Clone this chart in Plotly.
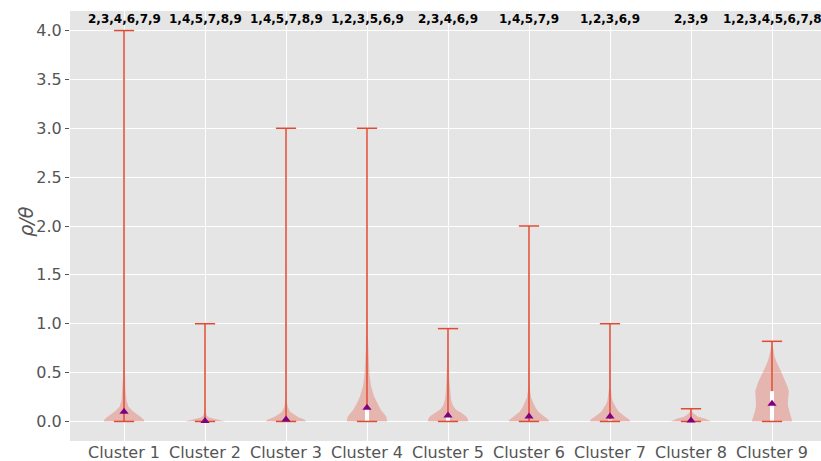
import plotly.graph_objects as go

# ---------------- data ----------------
clusters = ["Cluster 1", "Cluster 2", "Cluster 3", "Cluster 4", "Cluster 5",
            "Cluster 6", "Cluster 7", "Cluster 8", "Cluster 9"]
top_labels = ["2,3,4,6,7,9", "1,4,5,7,8,9", "1,4,5,7,8,9", "1,2,3,5,6,9",
              "2,3,4,6,9", "1,4,5,7,9", "1,2,3,6,9", "2,3,9", "1,2,3,4,5,6,7,8"]
minimums = [0, 0, 0, 0, 0, 0, 0, 0, 0]
maximums = [4.0, 1.0, 3.0, 3.0, 0.95, 2.0, 1.0, 0.13, 0.82]
means = [0.10, 0.005, 0.02, 0.14, 0.06, 0.05, 0.05, 0.01, 0.18]
q1 = [0, 0, 0, 0, 0, 0, 0, 0, 0]
q3 = [0.0, 0.0, 0.0, 0.16, 0.05, 0.0, 0.02, 0.0, 0.31]

# density profiles (value level, relative density 0..1)
dens_y = [
    [0, 0.02, 0.05, 0.1, 0.15, 0.22, 0.33, 0.5, 0.7, 1.0, 2.0, 3.0, 4.0],
    [0, 0.01, 0.025, 0.04, 0.06, 0.1, 0.2, 0.5, 1.0],
    [0, 0.02, 0.04, 0.07, 0.1, 0.14, 0.2, 0.3, 0.5, 1.0, 2.0, 3.0],
    [0, 0.05, 0.12, 0.19, 0.26, 0.36, 0.46, 0.57, 0.74, 0.9, 1.1, 1.5, 2.0, 3.0],
    [0, 0.03, 0.055, 0.09, 0.12, 0.157, 0.22, 0.33, 0.46, 0.7, 0.95],
    [0, 0.02, 0.04, 0.07, 0.1, 0.14, 0.175, 0.21, 0.245, 0.32, 0.5, 1.0, 2.0],
    [0, 0.02, 0.04, 0.07, 0.1, 0.14, 0.175, 0.21, 0.25, 0.35, 0.6, 1.0],
    [0, 0.01, 0.027, 0.048, 0.068, 0.09, 0.13],
    [0, 0.055, 0.105, 0.157, 0.21, 0.26, 0.31, 0.36, 0.41, 0.46, 0.52, 0.57,
     0.62, 0.67, 0.74, 0.82],
]
dens_w = [
    [1.0, 0.97, 0.8, 0.47, 0.22, 0.12, 0.07, 0.04, 0.02, 0.01, 0.005, 0.003, 0.0],
    [1.0, 0.8, 0.45, 0.2, 0.08, 0.03, 0.01, 0.005, 0.0],
    [1.0, 0.9, 0.63, 0.38, 0.2, 0.1, 0.04, 0.02, 0.01, 0.005, 0.003, 0.0],
    [1.0, 0.95, 0.68, 0.49, 0.34, 0.2, 0.13, 0.1, 0.06, 0.04, 0.025, 0.015, 0.007, 0.0],
    [1.0, 0.97, 0.87, 0.65, 0.4, 0.25, 0.15, 0.1, 0.05, 0.02, 0.0],
    [1.0, 0.95, 0.82, 0.62, 0.46, 0.33, 0.23, 0.17, 0.1, 0.05, 0.02, 0.007, 0.0],
    [1.0, 0.95, 0.8, 0.6, 0.43, 0.3, 0.2, 0.13, 0.08, 0.04, 0.015, 0.0],
    [1.0, 0.9, 0.7, 0.35, 0.2, 0.08, 0.0],
    [1.0, 0.92, 0.84, 0.79, 0.79, 0.81, 0.83, 0.76, 0.67, 0.55, 0.43, 0.3,
     0.2, 0.12, 0.06, 0.0],
]

# ---------------- style ----------------
HALF_WIDTH = 0.25
CAP = 0.125
RED = "#E24A33"
FILL = "rgba(226,74,51,0.3)"
FONT = "DejaVu Sans"

fig = go.Figure()
positions = list(range(1, len(clusters) + 1))

for i, p in enumerate(positions):
    ys = dens_y[i]
    ws = [w * HALF_WIDTH for w in dens_w[i]]
    xs = [p + w for w in ws] + [p - w for w in reversed(ws)]
    yy = ys + list(reversed(ys))
    fig.add_trace(go.Scatter(x=xs, y=yy, fill="toself", fillcolor=FILL,
                             mode="lines", line=dict(width=0),
                             hoverinfo="skip", showlegend=False))

for i, p in enumerate(positions):
    fig.add_trace(go.Scatter(x=[p, p], y=[minimums[i], maximums[i]], mode="lines",
                             line=dict(color=RED, width=1.5), showlegend=False,
                             hoverinfo="skip"))
    if q3[i] > q1[i]:
        fig.add_trace(go.Scatter(x=[p, p], y=[q1[i], q3[i]], mode="lines",
                                 line=dict(color="white", width=4),
                                 showlegend=False, hoverinfo="skip"))
    for v in (minimums[i], maximums[i]):
        fig.add_trace(go.Scatter(x=[p - CAP, p + CAP], y=[v, v], mode="lines",
                                 line=dict(color=RED, width=1.5),
                                 showlegend=False, hoverinfo="skip"))

fig.add_trace(go.Scatter(x=positions, y=means, mode="markers",
                         marker=dict(symbol="triangle-up", color="purple", size=8,
                                     line=dict(width=0)),
                         showlegend=False))

for i, p in enumerate(positions):
    fig.add_annotation(x=p, y=4.12, xref="x", yref="y", text="<b>%s</b>" % top_labels[i],
                       showarrow=False, font=dict(family=FONT, size=12, color="black"),
                       xanchor="center", yanchor="middle")

fig.add_annotation(x=0, y=0.51, xref="paper", yref="paper", text="<i>ρ/θ</i>",
                   textangle=-90, showarrow=False, xshift=-44,
                   font=dict(family=FONT, size=19, color="#555555"),
                   xanchor="center", yanchor="middle")

fig.update_layout(
    width=821, height=461,
    margin=dict(l=70, r=0, t=11, b=20),
    paper_bgcolor="white", plot_bgcolor="#E5E5E5",
    font=dict(family=FONT, size=16, color="#555555"),
    showlegend=False,
)
fig.update_xaxes(range=[0.333, 9.605], tickvals=positions, ticktext=clusters,
                 showgrid=True, gridcolor="white", gridwidth=1, zeroline=False,
                 ticks="", ticklen=0,
                 tickfont=dict(size=16, color="#555555"), automargin=False)
fig.update_yaxes(range=[-0.2, 4.2], tickvals=[0, 0.5, 1, 1.5, 2, 2.5, 3, 3.5, 4],
                 tickformat=".1f", showgrid=True, gridcolor="white", gridwidth=1,
                 zeroline=False, ticks="outside", ticklen=4, tickcolor="#555555",
                 tickfont=dict(size=16, color="#555555"), automargin=False)

fig.write_html("out.html", config={"displayModeBar": False},
               post_script="document.body.style.margin='0';document.body.style.overflow='hidden';")
